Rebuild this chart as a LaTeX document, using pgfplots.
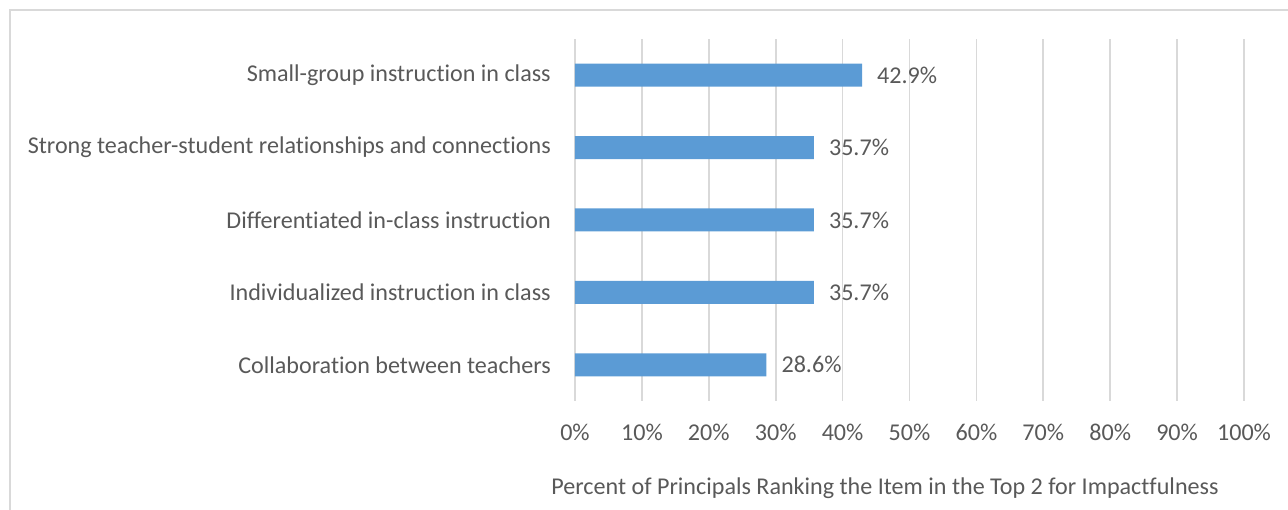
\documentclass[border=0pt]{standalone}
\usepackage{fontspec}
\setmainfont{Carlito}[Ligatures=NoCommon]
\usepackage{pgfplots}
\pgfplotsset{compat=1.18}
\definecolor{barblue}{HTML}{5B9BD5}
\definecolor{txt}{HTML}{595959}
\definecolor{grd}{HTML}{D9D9D9}
\begin{document}
\begin{tikzpicture}[x=1pt,y=1pt]
\useasboundingbox (0,0) rectangle (1288,510);
\draw[grd, line width=2pt] (10,0) -- (10,500) -- (1288,500);
\begin{axis}[
 at={(575pt,109pt)}, anchor=south west,
 scale only axis, width=669pt, height=362pt,
 xbar, bar width=23pt, bar shift=0pt,
 xmin=0, xmax=100, ymin=-0.5, ymax=4.5,
 xtick={0,10,...,100},
 ytick={0,...,4},
 yticklabels={Collaboration between teachers, Individualized instruction in class, Differentiated in-class instruction, Strong teacher-student relationships and connections, Small-group instruction in class},
 xticklabel={\pgfmathprintnumber{\tick}\%},
 /pgf/number format/assume math mode=true,
 xmajorgrids, major grid style={grd, line width=1.7pt},
 axis line style={draw=none},
 major tick length=0pt,
 tick style={draw=none},
 font=\fontsize{24.1}{29}\selectfont,
 ticklabel style={text=txt},
 xticklabel style={inner sep=0pt, anchor=north, yshift=-23pt},
 yticklabel style={inner sep=0pt, anchor=east, xshift=-24pt},
 nodes near coords={\pgfmathprintnumber[fixed,precision=1,fixed zerofill]{\pgfplotspointmeta}\%},
 nodes near coords style={text=txt, anchor=west, inner sep=0pt, xshift=15pt},
 point meta=x,
 clip=false,
]
\addplot[fill=barblue, draw=none] coordinates {(28.6,0) (35.7,1) (35.7,2) (35.7,3) (42.9,4)};
\end{axis}
\node[text=txt, font=\fontsize{24.1}{29}\selectfont] at (885,22) {Percent of Principals Ranking the Item in the Top 2 for Impactfulness};
\end{tikzpicture}
\end{document}
